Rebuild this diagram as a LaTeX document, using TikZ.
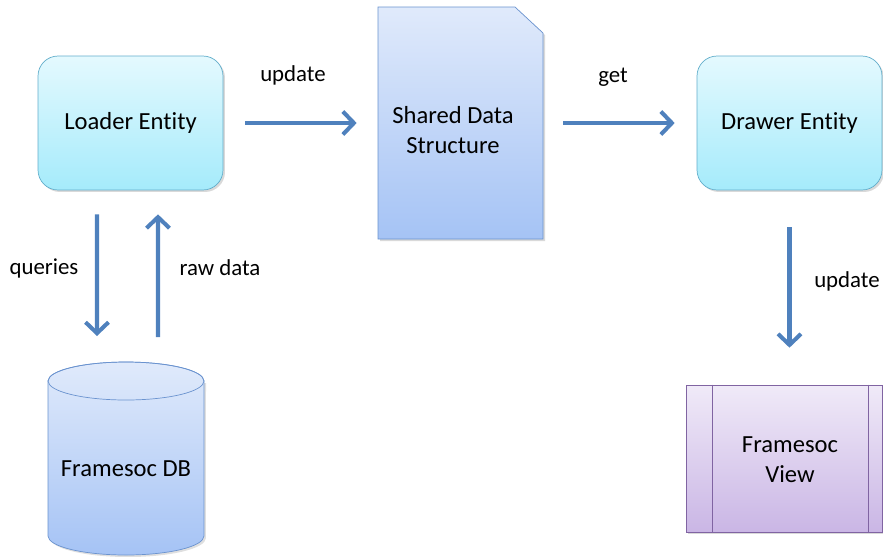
\documentclass[tikz,border=0pt]{standalone}
\usepackage{fontspec}
\setmainfont{Carlito}[Ligatures=NoCommon]
\usetikzlibrary{arrows.meta,shadows,calc}
\definecolor{flowblue}{HTML}{4F81BD}
\definecolor{entityline}{HTML}{62AECB}
\definecolor{entitytop}{HTML}{E4F9FE}
\definecolor{entitybot}{HTML}{A5EBFB}
\definecolor{docline}{HTML}{6A93CF}
\definecolor{doctop}{HTML}{E0EAFB}
\definecolor{docbot}{HTML}{A5C3F5}
\definecolor{viewline}{HTML}{8064A2}
\definecolor{viewtop}{HTML}{F0EAF8}
\definecolor{viewbot}{HTML}{CAB6E5}
\tikzset{
  entity/.style={draw=entityline, rounded corners=0.4cm, top color=entitytop, bottom color=entitybot,
    minimum width=3.7cm, minimum height=2.68cm, font=\fontsize{14}{17}\selectfont,
    drop shadow={opacity=0.3, shadow xshift=0.04cm, shadow yshift=-0.04cm}},
  flow/.style={draw=flowblue, line width=2.3pt, -{Straight Barb[length=0.22cm, width=0.46cm]}},
  lbl/.style={font=\fontsize{13}{16}\selectfont},
  txt/.style={font=\fontsize{14}{17}\selectfont, align=center}
}

\begin{document}
\begin{tikzpicture}[x=0.02cm, y=-0.02cm]
  \useasboundingbox (0,0) rectangle (883,556);

  \node[entity] (loader) at (130.5,123) {Loader Entity};
  \node[entity] (drawer) at (789.5,123) {Drawer Entity};

  \fill[gray, opacity=0.3] (380,9) -- (517,9) -- (545,35) -- (545,241) -- (380,241) -- cycle;
  \shade[top color=doctop, bottom color=docbot, draw=docline]
    (378,7) -- (515,7) -- (543,33) -- (543,239) -- (378,239) -- cycle;
  \node[minimum width=3.3cm, minimum height=4.64cm] (shared) at (460.5,123) {};
  \node[txt] at (453,130) {Shared Data\\Structure};

  \fill[gray, opacity=0.25] (50,383) -- (50,538) arc (180:360:1.56cm and 0.38cm) -- (206,383) -- cycle;
  \shade[top color=doctop, bottom color=docbot, draw=docline]
    (48,381) -- (48,536) arc (180:360:1.56cm and 0.38cm) -- (204,381) arc (0:180:1.56cm and 0.38cm) -- cycle;
  \draw[docline] (126,381) ellipse (1.56cm and 0.38cm);
  \node[txt] (db) at (126,469) {Framesoc DB};
  \coordinate (dbtop) at (126,362);

  \node[draw=viewline, top color=viewtop, bottom color=viewbot, minimum width=3.92cm, minimum height=2.94cm,
    drop shadow={opacity=0.3, shadow xshift=0.04cm, shadow yshift=-0.04cm}] (view) at (784,458.5) {};
  \draw[viewline] ([xshift=0.54cm]view.north west) -- ([xshift=0.54cm]view.south west);
  \draw[viewline] ([xshift=-0.28cm]view.north east) -- ([xshift=-0.28cm]view.south east);
  \node[txt] at (790,460) {Framesoc\\View};

  \draw[flow, shorten <=0.44cm, shorten >=0.42cm] (loader) -- (shared);
  \draw[flow, shorten <=0.4cm, shorten >=0.44cm] (shared.east |- drawer) -- (drawer);
  \draw[flow] ([xshift=-0.67cm, yshift=-0.48cm]loader.south) -- ([xshift=-0.58cm, yshift=0.52cm]dbtop);
  \draw[flow] ([xshift=0.64cm, yshift=0.5cm]dbtop) -- ([xshift=0.55cm, yshift=-0.48cm]loader.south);
  \draw[flow, shorten <=0.74cm, shorten >=0.74cm] (drawer) -- (drawer |- view.north);

  \node[lbl] at (293,75) {update};
  \node[lbl] at (613,77) {get};
  \node[lbl] at (44,268) {queries};
  \node[lbl] at (220,268) {raw data};
  \node[lbl] at (847,281) {update};
\end{tikzpicture}
\end{document}
